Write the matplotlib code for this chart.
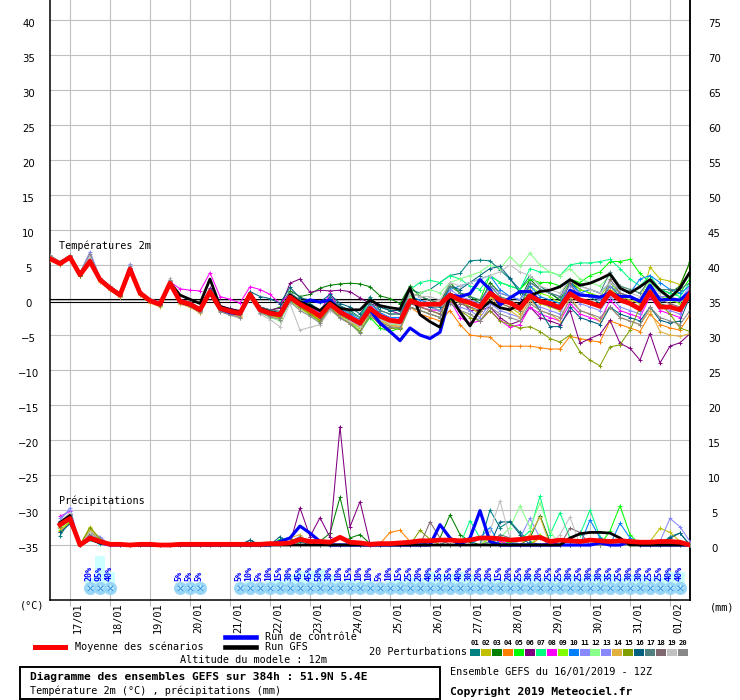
import numpy as np
import matplotlib
matplotlib.use("Agg")
import matplotlib.pyplot as plt
from matplotlib.transforms import ScaledTranslation, blended_transform_factory
from matplotlib.patches import Rectangle
from matplotlib.lines import Line2D

# ---------------- data ----------------
hours = list(range(0, 385, 6))          # 16/01 12Z + 0..384 h
precip_hours = hours[1:]
day_hours = [12, 36, 60, 84, 108, 132, 156, 180, 204, 228, 252, 276, 300, 324, 348, 372]
day_labels = ["17/01", "18/01", "19/01", "20/01", "21/01", "22/01", "23/01", "24/01",
              "25/01", "26/01", "27/01", "28/01", "29/01", "30/01", "31/01", "01/02"]
left_ticks = [-35, -30, -25, -20, -15, -10, -5, 0, 5, 10, 15, 20, 25, 30, 35, 40]
right_ticks = [0, 5, 10, 15, 20, 25, 30, 35, 40, 45, 50, 55, 60, 65, 70, 75]

member_colors = ['#008080', '#c0c000', '#008000', '#ff8000', '#00ff00', '#800080', '#00ff80',
                 '#ff00ff', '#80ff00', '#0080ff', '#8888ff', '#88ff88', '#8888ff', '#e0b040',
                 '#80a000', '#006080', '#508080', '#806870', '#c0c0c0', '#888888']
member_ids = ["01", "02", "03", "04", "05", "06", "07", "08", "09", "10",
              "11", "12", "13", "14", "15", "16", "17", "18", "19", "20"]

# temperature 2m (deg C), 65 steps
t_mean = [5.9,5.2,6.1,3.6,5.5,2.9,1.7,0.7,4.4,1.0,-0.1,-0.6,2.4,-0.2,-0.6,-1.4,1.2,-1.2,-1.6,-1.9,
          0.8,-1.4,-1.9,-2.1,0.4,-0.6,-1.4,-2.3,-0.6,-1.7,-2.5,-3.3,-1.2,-2.3,-2.9,-3.1,
          -0.1,-0.6,-0.6,-0.6,0.7,0.0,-0.4,-1.0,1.0,0.0,-0.4,-1.2,0.6,-0.2,-0.5,-1.1,0.9,0.0,-0.4,-0.9,
          1.1,0.0,-0.5,-1.3,1.1,-1.0,-1.0,-1.4,0.9]
t_ctrl = [5.9,5.2,6.1,3.6,5.5,2.9,1.7,0.7,4.5,1.0,-0.1,-0.7,2.4,-0.3,-0.7,-1.5,1.1,-1.3,-1.8,-2.0,
          0.7,-1.4,-1.8,-2.0,0.5,-0.5,0.0,-0.3,0.0,-1.5,-2.6,-3.4,-1.4,-3.3,-4.5,-5.8,
          -4.0,-5.0,-5.5,-4.6,0.7,0.5,0.9,2.9,1.5,-0.7,0.3,1.2,1.2,-0.2,-0.7,-1.2,1.4,0.7,0.6,0.4,
          1.0,0.5,0.5,-0.2,2.1,0.0,0.1,0.0,1.2]
t_gfs = [5.9,5.2,6.1,3.6,5.6,2.9,1.7,0.7,4.4,1.0,-0.1,-0.6,2.5,0.7,0.1,-0.5,3.0,-0.9,-1.4,-1.7,
         0.9,-1.2,-1.7,-2.0,0.7,-0.3,-0.8,-1.5,-0.3,-1.2,-1.4,-1.4,0.0,-0.8,-1.1,-1.3,
         1.7,-2.1,-3.1,-3.9,0.6,-1.7,-3.7,-1.4,-0.2,-1.1,-1.4,-0.5,0.6,1.2,1.4,1.9,2.9,2.1,2.4,3.0,
         3.7,1.7,1.0,1.9,2.9,1.4,0.3,1.7,4.0]

t_p01 = [6.0,5.3,6.2,3.8,5.7,3.0,1.6,0.6,4.5,1.1,-0.2,-0.8,2.6,-0.1,-0.5,-1.2,1.6,-1.0,-1.4,-1.6,
         1.2,-1.0,-1.5,-1.8,1.0,0.0,-0.5,-1.5,0.5,-0.8,-1.5,-2.5,0.5,-1.5,-2.0,-2.0,
         1.5,1.0,1.5,2.5,3.5,3.8,5.6,5.7,5.6,4.3,3.0,1.5,3.5,2.0,1.0,0.0,2.5,1.0,0.5,-0.5,
         2.0,0.5,-0.5,-1.5,1.5,-0.5,-1.0,-1.5,1.0]
t_p02 = [5.8,5.1,6.0,3.5,5.4,2.8,1.5,0.5,4.2,0.8,-0.3,-0.9,2.2,-0.4,-0.8,-1.6,1.0,-1.5,-1.9,-2.2,
         0.6,-1.6,-2.2,-2.5,0.0,-1.0,-1.9,-2.8,-1.2,-2.2,-3.2,-4.0,-2.0,-3.0,-3.8,-4.0,
         0.0,-1.0,-1.5,-2.0,0.5,-0.5,-1.0,-2.0,0.5,-0.5,-1.0,-2.0,0.5,-0.5,-1.0,-1.5,1.0,0.0,-0.5,-1.0,
         1.5,0.5,0.0,-0.5,4.7,3.0,2.7,2.2,5.3]
t_p03 = [6.1,5.3,6.3,3.7,5.9,3.0,1.8,0.8,4.6,1.2,0.0,-0.5,2.7,0.0,-0.4,-1.3,1.4,-1.1,-1.5,-1.7,
         0.6,-1.2,-1.5,-1.0,1.3,0.5,0.8,1.7,2.1,2.3,2.4,2.3,1.9,0.6,0.2,-0.5,
         2.0,0.5,0.0,-0.5,2.5,1.0,0.5,-0.5,2.5,1.0,0.5,0.0,3.0,1.5,1.0,0.0,2.5,1.5,1.0,0.0,
         2.0,1.0,0.5,0.0,2.5,1.5,1.0,2.0,5.5]
t_p04 = [5.7,5.0,5.9,3.4,5.3,2.6,1.4,0.4,4.1,0.7,-0.4,-0.9,2.1,-0.5,-1.0,-1.8,0.9,-1.6,-2.0,-2.3,
         0.7,-1.5,-2.0,-2.4,0.2,-1.0,-1.8,-2.8,-1.0,-2.2,-3.0,-3.8,-1.5,-2.8,-3.5,-3.8,
         -1.0,-2.0,-2.5,-3.0,-1.5,-3.5,-5.0,-5.2,-5.3,-6.6,-6.6,-6.6,-6.6,-6.8,-7.0,-7.0,-5.2,-5.5,-5.8,-6.0,
         -3.0,-3.5,-4.0,-4.5,-2.0,-3.5,-4.0,-4.3,-2.1]
t_p05 = [6.0,5.2,6.2,3.6,5.6,2.9,1.7,0.7,4.3,0.9,-0.1,-0.5,2.5,-0.2,-0.6,-1.3,1.3,-1.2,-1.6,-2.0,
         0.9,-1.2,-1.8,-2.0,0.6,-0.8,-1.6,-2.6,-0.8,-2.0,-3.0,-4.5,-2.5,-4.0,-4.5,-4.0,
         0.5,-0.5,-1.0,-1.5,2.0,1.0,0.5,0.0,3.5,2.5,2.0,1.5,3.0,2.5,2.5,2.0,3.0,2.5,3.5,4.0,
         5.5,5.5,5.8,3.8,2.5,0.0,0.5,1.0,3.1]
t_p06 = [5.9,5.3,6.1,3.8,5.8,3.1,1.9,0.9,4.6,1.1,0.0,-0.4,2.6,0.1,-0.3,-1.1,1.7,-0.8,-1.2,-1.5,
         0.9,-1.0,-1.4,-1.2,2.4,3.0,1.1,1.4,1.3,1.4,1.2,0.3,-0.5,-1.0,-1.5,-2.0,
         0.5,-0.5,-1.0,-1.5,1.0,0.0,-1.5,-1.5,-1.0,-2.5,-3.5,-3.0,-1.0,-2.5,-3.0,-3.5,-1.5,-6.2,-5.5,-4.9,
         -2.9,-6.2,-6.9,-8.6,-4.8,-9.0,-6.6,-6.1,-4.8]
t_p07 = [5.8,5.2,6.0,3.5,5.5,2.8,1.6,0.6,4.3,0.9,-0.2,-0.7,2.3,-0.3,-0.7,-1.5,1.1,-1.3,-1.7,-2.0,
         1.0,-1.2,-1.6,-1.8,0.8,-0.2,-1.0,-1.8,0.0,-1.0,-1.8,-2.5,0.0,-1.0,-1.5,-1.5,
         1.5,2.5,2.8,2.5,3.5,3.0,2.0,1.5,3.5,2.5,2.0,1.5,4.5,4.0,4.0,3.5,5.0,5.3,5.3,5.5,
         5.8,4.5,3.0,2.0,3.5,1.5,1.0,0.5,2.5]
t_p08 = [6.2,5.4,6.2,3.7,5.8,3.0,1.8,0.8,4.6,1.1,0.1,-0.3,2.6,1.6,1.4,1.3,3.9,0.5,0.1,-0.4,
         1.9,1.5,0.8,-0.5,0.9,-0.5,-1.0,-1.8,1.0,-1.5,-2.2,-3.0,-0.8,-2.0,-2.6,-2.8,
         -0.5,-1.0,-1.4,-1.5,0.0,-2.5,-3.3,-3.0,-1.5,-2.9,-3.9,-3.5,-1.0,-2.0,-2.5,-3.0,-0.5,-2.0,-2.5,-3.0,
         0.0,-1.5,-2.0,-2.5,0.5,-1.5,-2.0,-2.5,2.0]
t_p09 = [5.9,5.2,6.1,3.7,5.6,3.0,1.7,0.6,4.4,1.0,-0.2,-0.6,2.4,-0.2,-0.6,-1.5,1.2,-1.3,-1.7,-2.0,
         0.8,-1.6,-2.0,-2.6,0.2,-1.2,-2.0,-3.0,-1.0,-2.4,-3.0,-4.0,-1.5,-2.8,-3.2,-3.5,
         0.3,-0.5,-1.0,-1.5,1.0,0.0,-1.0,-2.0,1.5,0.0,-0.5,-1.0,2.0,1.0,0.5,-0.5,3.0,1.5,1.0,0.5,
         2.5,1.0,0.5,0.0,1.5,0.5,0.0,-0.5,1.5]
t_p10 = [6.0,5.2,6.1,3.6,5.4,2.9,1.8,0.8,4.5,1.0,-0.1,-0.6,2.5,-0.1,-0.5,-1.4,1.3,-1.1,-1.5,-1.8,
         0.7,-1.3,-1.8,-2.0,0.5,-0.5,-1.3,-2.0,-0.3,-1.2,-2.0,-2.8,-0.5,-1.8,-2.5,-2.5,
         0.5,0.0,-0.5,-0.5,1.5,2.0,2.5,3.0,3.5,1.5,0.5,0.0,2.0,0.5,0.0,-0.5,2.5,1.0,1.5,1.0,
         2.5,1.5,1.0,3.0,3.5,2.5,1.5,1.0,2.0]
t_p11 = [6.1,5.4,6.3,3.9,6.9,3.2,2.0,1.0,5.2,1.3,0.2,-0.3,2.8,0.0,-0.4,-1.2,1.5,-1.0,-1.4,-1.7,
         0.9,-1.5,-2.0,-2.2,0.3,-0.8,-1.5,-2.5,-0.8,-2.0,-2.8,-3.5,-1.5,-2.5,-3.0,-3.3,
         -1.0,-1.5,-2.0,-2.5,0.0,-1.0,-1.5,-2.5,-0.5,-1.5,-2.0,-2.5,0.0,-1.0,-1.5,-2.0,1.0,-0.5,-1.0,-1.5,
         0.5,-1.0,-1.5,-2.0,1.0,-1.0,-1.5,-2.0,0.5]
t_p12 = [5.8,5.1,6.0,3.5,5.3,2.7,1.5,0.5,4.2,0.8,-0.3,-0.8,2.2,-0.4,-0.9,-1.7,1.0,-1.4,-1.8,-2.1,
         0.6,-1.8,-2.5,-3.0,-0.3,-1.2,-2.2,-3.2,-1.2,-2.5,-3.3,-4.3,-2.0,-3.0,-3.5,-3.5,
         0.5,1.0,1.5,1.0,2.5,3.0,3.5,4.0,5.0,4.5,6.2,4.8,6.7,5.0,4.0,3.5,4.5,3.0,2.5,2.0,
         3.5,2.0,1.5,1.0,2.5,1.0,0.5,0.0,1.5]
t_p13 = [6.0,5.3,6.2,3.7,5.6,3.0,1.8,0.8,4.5,1.1,0.0,-0.5,2.5,-0.1,-0.5,-1.3,1.3,-1.1,-1.5,-1.8,
         0.8,-1.3,-1.8,-2.0,0.6,-0.4,-1.2,-2.0,-0.4,-1.5,-2.3,-3.0,-1.0,-2.0,-2.6,-2.8,
         0.0,-0.5,-1.0,-1.5,1.5,0.5,0.0,-0.5,2.0,1.0,0.5,0.0,2.5,1.5,1.0,0.5,2.0,1.0,0.5,0.0,
         2.0,1.0,0.5,0.0,1.5,0.5,0.5,0.0,2.0]
t_p14 = [5.7,5.1,5.9,3.4,5.2,2.7,1.4,0.4,4.1,0.7,-0.4,-1.0,2.1,-0.6,-1.0,-1.9,0.9,-1.6,-2.1,-2.4,
         0.7,-1.6,-2.3,-2.6,0.1,-1.2,-2.0,-3.0,-1.0,-2.3,-3.2,-4.0,-1.8,-3.0,-3.6,-3.8,
         -0.5,-1.0,-1.5,-2.0,0.5,-0.5,-1.0,-2.0,0.5,-1.0,-1.5,-2.5,0.0,-1.5,-2.0,-3.0,0.5,-1.5,-2.0,-3.0,
         -1.0,-2.5,-3.0,-3.5,-1.5,-4.5,-5.0,-5.2,-4.8]
t_p15 = [5.8,5.1,6.0,3.5,5.4,2.8,1.6,0.6,4.3,0.9,-0.2,-0.7,2.3,-0.3,-0.7,-1.5,1.1,-1.3,-1.7,-2.0,
         0.7,-1.5,-2.2,-2.5,0.0,-1.0,-2.0,-3.0,-1.2,-2.4,-3.4,-4.5,-2.2,-3.5,-4.0,-4.2,
         -1.0,-1.5,-2.0,-2.5,0.0,-1.5,-2.5,-3.0,-1.5,-3.0,-3.5,-4.0,-3.8,-4.5,-5.5,-6.0,-5.0,-7.4,-8.6,-9.4,
         -6.7,-6.4,-4.3,-1.0,1.5,-0.5,-2.0,-4.0,-4.5]
t_p16 = [6.1,5.3,6.2,3.6,5.5,3.0,1.8,0.9,4.5,1.1,0.0,-0.5,2.5,-0.1,-0.4,-1.2,1.4,-0.9,-1.3,-1.6,
         1.2,0.5,0.2,-0.5,1.8,0.3,0.0,-0.3,0.8,-0.5,-1.0,-2.0,0.0,-1.0,-1.5,-1.5,
         0.0,-0.5,-1.0,-1.0,2.0,1.5,2.5,3.5,4.5,4.8,3.1,1.0,0.5,-1.5,-3.8,-3.8,-1.0,-2.5,-3.0,-3.5,
         -1.0,-2.0,-2.5,-3.0,-1.0,-2.9,-3.3,-3.0,0.5]
t_p17 = [6.0,5.2,6.1,3.7,5.7,2.9,1.7,0.7,4.4,1.0,-0.1,-0.6,2.4,-0.2,-0.6,-1.4,1.2,-1.2,-1.6,-1.9,
         0.9,-1.0,-1.4,-1.6,1.0,0.0,-0.8,-1.5,0.2,-1.0,-1.8,-2.5,-0.5,-1.5,-2.0,-2.0,
         1.0,0.5,0.0,-0.5,2.0,1.0,0.5,0.0,2.0,0.5,0.0,-1.0,2.5,1.5,1.0,0.5,3.0,2.0,1.5,1.0,
         4.0,2.0,1.5,1.0,3.0,1.5,1.5,1.5,2.5]
t_p18 = [5.9,5.2,6.0,3.6,5.5,2.8,1.6,0.6,4.3,0.9,-0.2,-0.7,2.3,-0.3,-0.7,-1.5,1.1,-1.3,-1.7,-2.0,
         0.8,-1.5,-2.0,-2.3,0.4,-0.8,-1.6,-2.5,-0.8,-2.0,-2.8,-3.6,-1.3,-2.6,-3.0,-3.2,
         -0.5,-1.0,-1.5,-2.0,1.0,-0.5,-1.0,-1.5,1.0,-0.5,-1.0,-1.5,1.5,0.0,-0.5,-1.0,2.5,0.0,-0.5,-1.0,
         3.0,1.0,0.5,0.0,2.0,0.0,-0.5,-1.0,1.0]
t_p19 = [6.3,5.4,6.4,3.8,6.3,3.1,1.9,0.9,5.0,1.2,0.1,-0.4,3.1,-0.1,-0.6,-1.6,1.2,-1.6,-2.2,-2.6,
         0.3,-2.0,-2.8,-3.8,-0.5,-4.3,-3.9,-3.5,-1.5,-2.5,-3.0,-3.8,-1.5,-2.8,-3.3,-3.5,
         1.0,0.5,0.5,0.0,2.5,2.0,2.5,3.0,3.5,4.0,5.0,4.0,3.5,2.0,1.5,1.0,3.0,2.0,1.5,1.0,
         2.5,1.5,1.0,0.5,2.0,1.0,0.5,0.0,1.5]
t_p20 = [6.4,5.5,6.4,3.9,6.6,3.2,2.0,1.0,4.9,1.2,0.1,-0.4,2.8,-0.3,-0.9,-1.7,0.8,-1.7,-2.1,-2.5,
         0.7,-1.8,-2.4,-2.8,-0.2,-1.5,-2.3,-3.3,-1.2,-2.6,-3.4,-4.7,-2.2,-3.2,-3.8,-4.0,
         -1.0,-1.5,-2.0,-2.5,-0.5,-1.5,-2.0,-3.0,-1.0,-2.0,-2.5,-3.0,-0.5,-1.5,-2.0,-2.5,0.0,-1.5,-2.0,-2.5,
         -1.0,-2.5,-3.0,-3.5,-1.0,-2.5,-3.0,-3.5,-1.5]
t_members = [t_p01, t_p02, t_p03, t_p04, t_p05, t_p06, t_p07, t_p08, t_p09, t_p10,
             t_p11, t_p12, t_p13, t_p14, t_p15, t_p16, t_p17, t_p18, t_p19, t_p20]

# precipitation (mm / 6h), 64 steps (from +6h)
r_mean = [2.9,3.8,0.0,1.0,0.5,0.1,0.1,0.0, 0.1,0.1,0.0,0.0,0.1,0.1,0.1,0.1, 0.1,0.1,0.1,0.1,0.1,0.2,0.2,0.3,
          0.8,0.5,0.5,0.4,1.1,0.4,0.3,0.1, 0.2,0.2,0.3,0.4,0.6,0.6,0.7,0.7, 0.6,0.7,1.0,1.0,0.9,0.7,0.8,1.0,
          1.1,0.5,0.7,0.6,0.5,0.7,0.6,0.5, 0.6,0.5,0.4,0.4,0.5,0.5,0.4,0.0]
r_ctrl = [3.0,3.8,0,1.0,0.3,0,0,0, 0,0,0,0,0,0,0,0, 0,0,0,0,0,0,0.5,1.0, 2.7,1.7,0.5,0,0,0,0,0,
          0,0,0,0,0,0,2.9,1.0, 0,1.0,4.9,0.5,0,0,0,0, 0,0,0,0,0,0,0.3,0, 0,0.5,0,0,0,0,0,0]
r_gfs = [3.2,4.2,0,0.8,0.3,0.2,0.1,0, 0,0,0,0,0,0,0,0, 0,0,0,0,0,0,0,0, 0,0,0,0,0,0,0,0,
         0,0,0,0,0,0,0,0, 0,0,0,0,0,0,0,0, 0,0,0,1.0,1.6,1.8,1.8,1.7, 1.0,0,0,0,0,0,0,0]
r_p01 = [1.3,3.5,0,1.2,0.5,0.1,0,0, 0,0,0,0,0,0,0,0, 0,0,0,0.7,0,0,0,0.3, 0.5,0,0,0,0,0,0,0,
         0,0,0,0,0.4,0,0,0.8, 0,0,0,5.0,2.5,3.4,1.8,0.5, 0,0,0,0,0,0,0.5,0, 0,0,0,0,0,1.2,1.7,0]
r_p02 = [2.5,4.0,0,2.6,0.8,0,0,0, 0,0,0,0,0,0,0,0, 0,0,0,0,0,0,0,0, 0,0,0,0,0,0,0,0,
         0,0,0,0,0,0,0,0, 0,0,0,0,0.5,0,0,0, 0,0,0,0,0,0,0,0, 0,0,0,0.5,2.4,1.8,0.5,0]
r_p03 = [2.8,3.8,0,1.5,0.6,0,0,0, 0,0,0,0,0,0,0,0, 0,0,0,0,0,0,0,0, 0,0,0.5,1.7,6.8,1.0,1.5,0.2,
         0,0,0,0,0,0.5,1.0,4.3, 1.5,0.5,0,0,0,0,0,1.0, 4.2,0.5,0,1.0,0,0,0,0, 0,0,0,0,0,0,0,0]
r_p04 = [2.0,3.2,0,1.8,0.5,0,0,0, 0,0,0,0,0,0,0,0, 0,0,0,0,0,0,0,0, 0,0,0,0,0,0,0,0,
         0.2,1.8,2.1,0.5,0,0,0,0, 0,0,0,0,0,0,0,0, 1.0,0,0,0,0,0,0,0, 0,0.5,0,0,0,0,0,0]
r_p05 = [3.0,4.2,0,1.0,0.3,0,0,0, 0,0,0,0,0.2,0,0,0, 0,0,0,0,0,0,0.8,1.0, 0,0,0,0,0,0,0,0,
         0,0,0,0,0,0,0,0, 0,0,0,0,0,0.5,0,0, 0,0,0,0,0,0,0,2.0, 5.6,1.5,0,0,0,0,0,0]
r_p06 = [3.2,4.5,0,1.0,0.3,0,0,0, 0,0,0,0,0,0,0,0, 0,0,0,0,0,0,0,0.2, 5.3,1.2,3.9,1.1,16.9,2.6,6.2,0.2,
         0,0,0,0,0,0,0,0, 0,0,0,0.5,0,0,0,0, 0,0,0,0,0,0,0,0, 0,0,0,0,0,0,0,0]
r_p07 = [2.6,4.0,0,0.8,0.2,0,0,0, 0,0,0,0,0,0,0,0, 0,0,0,0,0,0,0,0, 0,0,0,0,0,0,0,0,
         0,0,0,0,0,0,0,0, 0,3.5,1.0,0,0,0,0.8,2.0, 7.0,1.5,4.6,1.0,1.5,5.0,1.2,0, 0,0,0,0,0,0,0,0]
r_p08 = [4.1,4.8,0,1.4,0.5,0,0,0, 0,0,0,0,0,0,0,0, 0,0,0,0,0,0,0,0.3, 0,0,0,0,0,0,0,0,
         0,0,0,0,0,0,0,0, 0,0,0,0,0.6,0,0,0, 0,0.4,0,0,0,0,0,0, 0,0,0,0,0,0,0,0]
r_p09 = [2.2,3.3,0,2.0,0.6,0,0,0, 0,0,0,0,0,0.2,0,0, 0,0,0,0,0,0,0,0, 0,0,0,0,0,0,0,0,
         0,0,0,0,0,0,0,0, 0,0,0,1.0,0,0,0,0, 1.5,0,0,0,0,0,0,0, 0,0,0,0,0,0,0,0]
r_p10 = [2.5,3.6,0,1.0,0.4,0,0,0, 0,0,0,0,0,0,0,0, 0,0,0,0,0,0,0,0, 0,0,0,0,0,0,0,0,
         0,0,0,0,0,0,0,0, 0,0,1.0,2.5,0,0,0,0, 0,0,0,0,0,3.6,1.0,0, 3.1,1.0,0,0,0,0,0,0]
r_p11 = [3.5,5.3,0,1.8,1.2,0,0,0, 0,0.1,0,0,0,0,0,0, 0,0,0,0,0,0,0,0, 0,0,0,0.2,0,0,0,0,
         0,0,0,0,0,0,0,0, 0,0,0,0,0,0,1.0,3.8, 1.0,0,0,0,0,0,0,0, 0,0,0,0,0,0,0,0]
r_p12 = [3.0,4.3,0,1.2,0.4,0,0,0, 0,0,0,0,0,0,0,0, 0,0,0,0,0,0,0,0, 0,0,0,0,0,0,0,0,
         0,0,0,0,0,0,0,0, 0,0,0,0,1.0,2.5,5.6,2.5, 6.0,2.0,0,0,0,0,0,0, 0,0,0,0,0,0,0,0]
r_p13 = [3.8,5.0,0,1.5,1.0,0,0,0, 0,0,0,0,0,0,0,0, 0,0,0,0,0,0,0,0, 0,0,0,0,0,0,0,0,
         0,0,0,0,0,0,0,0, 0,0,0,0,0,0,0,0, 0,0,0,0,0,0,0,0, 0,0,0,0,0.5,3.8,2.6,0.5]
r_p14 = [2.4,3.9,0,2.2,0.8,0,0,0, 0,0,0,0,0,0,0,0, 0,0,0,0,0,0,0,1.0, 1.5,0,0,0,0,0,0,0,
         0,0,0,0,0,0,0,0, 0,0,0,0,0,0,0,1.5, 4.0,0,0,0,0,0,0,0, 0,0,0,0,0,0,0,0]
r_p15 = [2.6,3.5,0,2.5,0.9,0,0,0, 0,0,0,0,0,0,0,0, 0,0,0,0,0,0,0,0, 0,0,0,0,0,0,0,0,
         0,0,0,0,2.1,0.8,0,0, 0,0,0,0,0,0,0,0, 0,0,0,0,0,0,0,0, 0,0,0,0,0,0,0,0]
r_p16 = [1.8,3.0,0,1.0,0.3,0,0,0, 0,0,0,0,0,0,0,0, 0,0,0,0.7,0,0,1.2,0, 0,0,0,0,0,0,0,0,
         0,0,0,0,0,0,0,0, 0,0,0,0,3.3,3.3,1.5,0, 0,0,0,0,0,0,0,0, 0,0,0,0,0,1.0,1.7,0]
r_p17 = [2.9,4.1,0,1.4,0.5,0,0,0, 0,0,0,0,0,0,0,0, 0,0,0,0,0,0,0,0.5, 1.2,0,0,0,0,0,0,0,
         0,0,0,0,0,0,0,0, 0,0,0,0,1.5,1.0,0,0, 0,0,0,0,0,0,0,0, 0,0,0,0,0,0,0,0]
r_p18 = [3.0,4.4,0,1.6,0.7,0,0,0, 0,0,0,0,0,0,0,0, 0,0,0,0,0,0,0,0, 0,0,0,0,0,0,0,0,
         0,0,0,0,0,3.3,1.0,0, 0,0,0,0,0,0,0,0, 0,0,0,2.4,1.8,0,0,0, 0,0,0,0,0,0,0,0]
r_p19 = [3.3,4.6,0,1.8,0.4,0,0,0, 0,0,0,0,0,0,0,0, 0,0,0,0,0,0,0,0, 0,0,0,0,0,0,0,0,
         0,0,0,0,0,0,0,0, 0,0,0,2.0,6.3,1.0,0,0, 0,0,1.5,4.0,0,0,0,0, 0,0,0,0,0,0,0,0]
r_p20 = [3.0,4.0,0,1.3,0.6,0,0,0, 0,0,0,0,0,0,0,0, 0,0,0,0,0,0,0.3,0, 0,0,0,0,0,0,0,0,
         0,0,0,0,0,0,0,0, 0,0,0,0.5,0,0,0,0, 0,0,0,0.8,0,0,0,0, 0,0,0,0,0,0,0,0]
r_members = [r_p01, r_p02, r_p03, r_p04, r_p05, r_p06, r_p07, r_p08, r_p09, r_p10,
             r_p11, r_p12, r_p13, r_p14, r_p15, r_p16, r_p17, r_p18, r_p19, r_p20]

# snow probability (%) per 6h step
snow_hours = [24, 30, 36, 78, 84, 90,
              114, 120, 126, 132, 138, 144, 150, 156, 162, 168, 174, 180, 186, 192, 198,
              204, 210, 216, 222, 228, 234, 240, 246, 252, 258, 264, 270, 276, 282, 288,
              294, 300, 306, 312, 318, 324, 330, 336, 342, 348, 354, 360, 366, 372, 378]
snow_pct = [20, 95, 40, 5, 5, 5,
            5, 10, 5, 10, 15, 30, 45, 45, 50, 30, 10, 15, 10, 10, 5,
            10, 15, 25, 20, 40, 35, 35, 40, 30, 20, 20, 15, 20, 25, 30,
            20, 25, 25, 30, 25, 30, 30, 35, 25, 30, 30, 25, 25, 40, 40]

# ---------------- figure ----------------
W, H = 740, 700
fig = plt.figure(figsize=(W / 100, H / 100), dpi=100)
fig.patch.set_facecolor('white')


def fx(x):
    return x / W


def fy(y):
    return 1 - y / H


ax = fig.add_axes([fx(50), fy(600), fx(690) - fx(50), fy(0) - fy(600)])
YL = 300 / 7.0
ax.set_xlim(0, 384)
ax.set_ylim(-YL, YL)
ax.set_facecolor('white')
grid_c = '#c0c0c0'
ax.set_yticks(left_ticks)
ax.set_xticks(day_hours)
ax.grid(True, color=grid_c, lw=0.8, zorder=0)
ax.set_axisbelow(True)
ax.tick_params(axis='x', direction='out', length=4, color=grid_c, width=0.8, labelbottom=False)
ax.tick_params(axis='y', length=0, pad=15.5, labelsize=7.3)
for lab in ax.get_yticklabels():
    lab.set_horizontalalignment('center')
    lab.set_transform(lab.get_transform() + ScaledTranslation(0, -3 / 100, fig.dpi_scale_trans))
ax.spines['top'].set_visible(False)
for s in ['left', 'bottom', 'right']:
    ax.spines[s].set_color('black')
    ax.spines[s].set_linewidth(1.1)

# freezing double line
ax.axhline(0.15, color='black', lw=0.8, zorder=2)
ax.axhline(-0.22, color='black', lw=0.8, zorder=2)

# temperature spaghetti
for vals, c in zip(t_members, member_colors):
    ax.plot(hours, vals, color=c, lw=0.75, marker='+', ms=3, mew=0.7, zorder=3)
ax.plot(hours, t_ctrl, color='#0000ff', lw=2.3, zorder=4)
ax.plot(hours, t_gfs, color='black', lw=2.0, zorder=4)
ax.plot(hours, t_mean, color='#ff0000', lw=3.4, zorder=5)

# snow probability row
icon_y = -41.15
bar_h = [p * 0.3 / 7 for p in snow_pct]
ax.bar(snow_hours, bar_h, width=6, bottom=-40.6, color='#ccffff', zorder=1, linewidth=0)
ax.scatter(snow_hours, [icon_y] * len(snow_hours), s=88, marker='o', color='#9ad6f6', zorder=2, linewidths=0)
ax.scatter(snow_hours, [icon_y] * len(snow_hours), s=40, marker='*', color='#d8f6ff', zorder=2, linewidths=0)
ax.scatter(snow_hours, [icon_y] * len(snow_hours), s=16, marker='x', color='#3d9ae8', zorder=2, linewidths=0.8)
for h, p in zip(snow_hours, snow_pct):
    ax.text(h - 0.6, -40.15, f"{p}%", rotation=90, ha='center', va='bottom', color='#0000ff',
            fontsize=6.0, family='DejaVu Sans Mono', fontweight='bold', zorder=6)

# date labels
btr = blended_transform_factory(ax.transData, ax.transAxes)
for h, lab in zip(day_hours, day_labels):
    ax.annotate(lab, xy=(h, 0), xycoords=btr, xytext=(5.8, -1.5), textcoords='offset points',
                rotation=90, ha='center', va='top', fontsize=7.4, family='DejaVu Sans Mono')

# precipitation on right axis
ax2 = ax.twinx()
ax2.set_ylim(-YL + 35, YL + 35)
ax2.set_yticks(right_ticks)
ax2.tick_params(axis='y', length=0, pad=17.5, labelsize=7.3)
for lab in ax2.get_yticklabels():
    lab.set_horizontalalignment('center')
    lab.set_transform(lab.get_transform() + ScaledTranslation(0, -3 / 100, fig.dpi_scale_trans))
for s in ['top', 'left', 'bottom']:
    ax2.spines[s].set_visible(False)
ax2.spines['right'].set_linewidth(1.1)
for vals, c in zip(r_members, member_colors):
    ax2.plot(precip_hours, vals, color=c, lw=0.75, marker='+', ms=3, mew=0.7, zorder=3)
ax2.plot(precip_hours, r_ctrl, color='#0000ff', lw=2.3, zorder=4)
ax2.plot(precip_hours, r_gfs, color='black', lw=2.0, zorder=4)
ax2.plot(precip_hours, r_mean, color='#ff0000', lw=3.4, zorder=5)

mono = 'DejaVu Sans Mono'
fig.text(fx(59), fy(246), 'Températures 2m', family=mono, fontsize=7.3, va='center', ha='left')
fig.text(fx(59), fy(501), 'Précipitations', family=mono, fontsize=7.3, va='center', ha='left')
fig.text(fx(32), fy(606), '(°C)', family=mono, fontsize=7.3, va='center', ha='center')
fig.text(fx(722), fy(607), '(mm)', family=mono, fontsize=7.3, va='center', ha='center')

# legend
fig.add_artist(Line2D([fx(35), fx(65)], [fy(647), fy(647)], color='#ff0000', lw=3.6))
fig.text(fx(75), fy(647), 'Moyenne des scénarios', family=mono, fontsize=7.3, va='center')
fig.add_artist(Line2D([fx(225), fx(256)], [fy(637), fy(637)], color='#0000ff', lw=3.3))
fig.text(fx(265), fy(637), 'Run de contrôle', family=mono, fontsize=7.3, va='center')
fig.add_artist(Line2D([fx(225), fx(256)], [fy(647), fy(647)], color='black', lw=3.3))
fig.text(fx(265), fy(647), 'Run GFS', family=mono, fontsize=7.3, va='center')
fig.text(fx(180), fy(660), 'Altitude du modele : 12m', family=mono, fontsize=7.3, va='center')
fig.text(fx(369), fy(652), '20 Perturbations', family=mono, fontsize=7.3, va='center')
for i, (mid, c) in enumerate(zip(member_ids, member_colors)):
    x0 = 470 + i * 10.95
    fig.add_artist(Rectangle((fx(x0), fy(656)), fx(10), 7 / H, transform=fig.transFigure,
                             facecolor=c, edgecolor='none'))
    fig.text(fx(x0 + 5), fy(643), mid, family=mono, fontsize=5.2, fontweight='bold',
             va='center', ha='center')

fig.add_artist(Rectangle((fx(20), fy(699)), fx(420), 32 / H, transform=fig.transFigure,
                         facecolor='none', edgecolor='black', lw=1.4))
fig.text(fx(30), fy(677), 'Diagramme des ensembles GEFS sur 384h : 51.9N 5.4E', family=mono,
         fontsize=8.1, fontweight='bold', va='center')
fig.text(fx(30), fy(691), 'Température 2m (°C) , précipitations (mm)', family=mono,
         fontsize=7.3, va='center')
fig.text(fx(450), fy(672), 'Ensemble GEFS du 16/01/2019 - 12Z', family=mono, fontsize=7.3, va='center')
fig.text(fx(450), fy(692), 'Copyright 2019 Meteociel.fr', family=mono, fontsize=8.1,
         fontweight='bold', va='center')

fig.savefig('out.png', dpi=100, facecolor='white')
